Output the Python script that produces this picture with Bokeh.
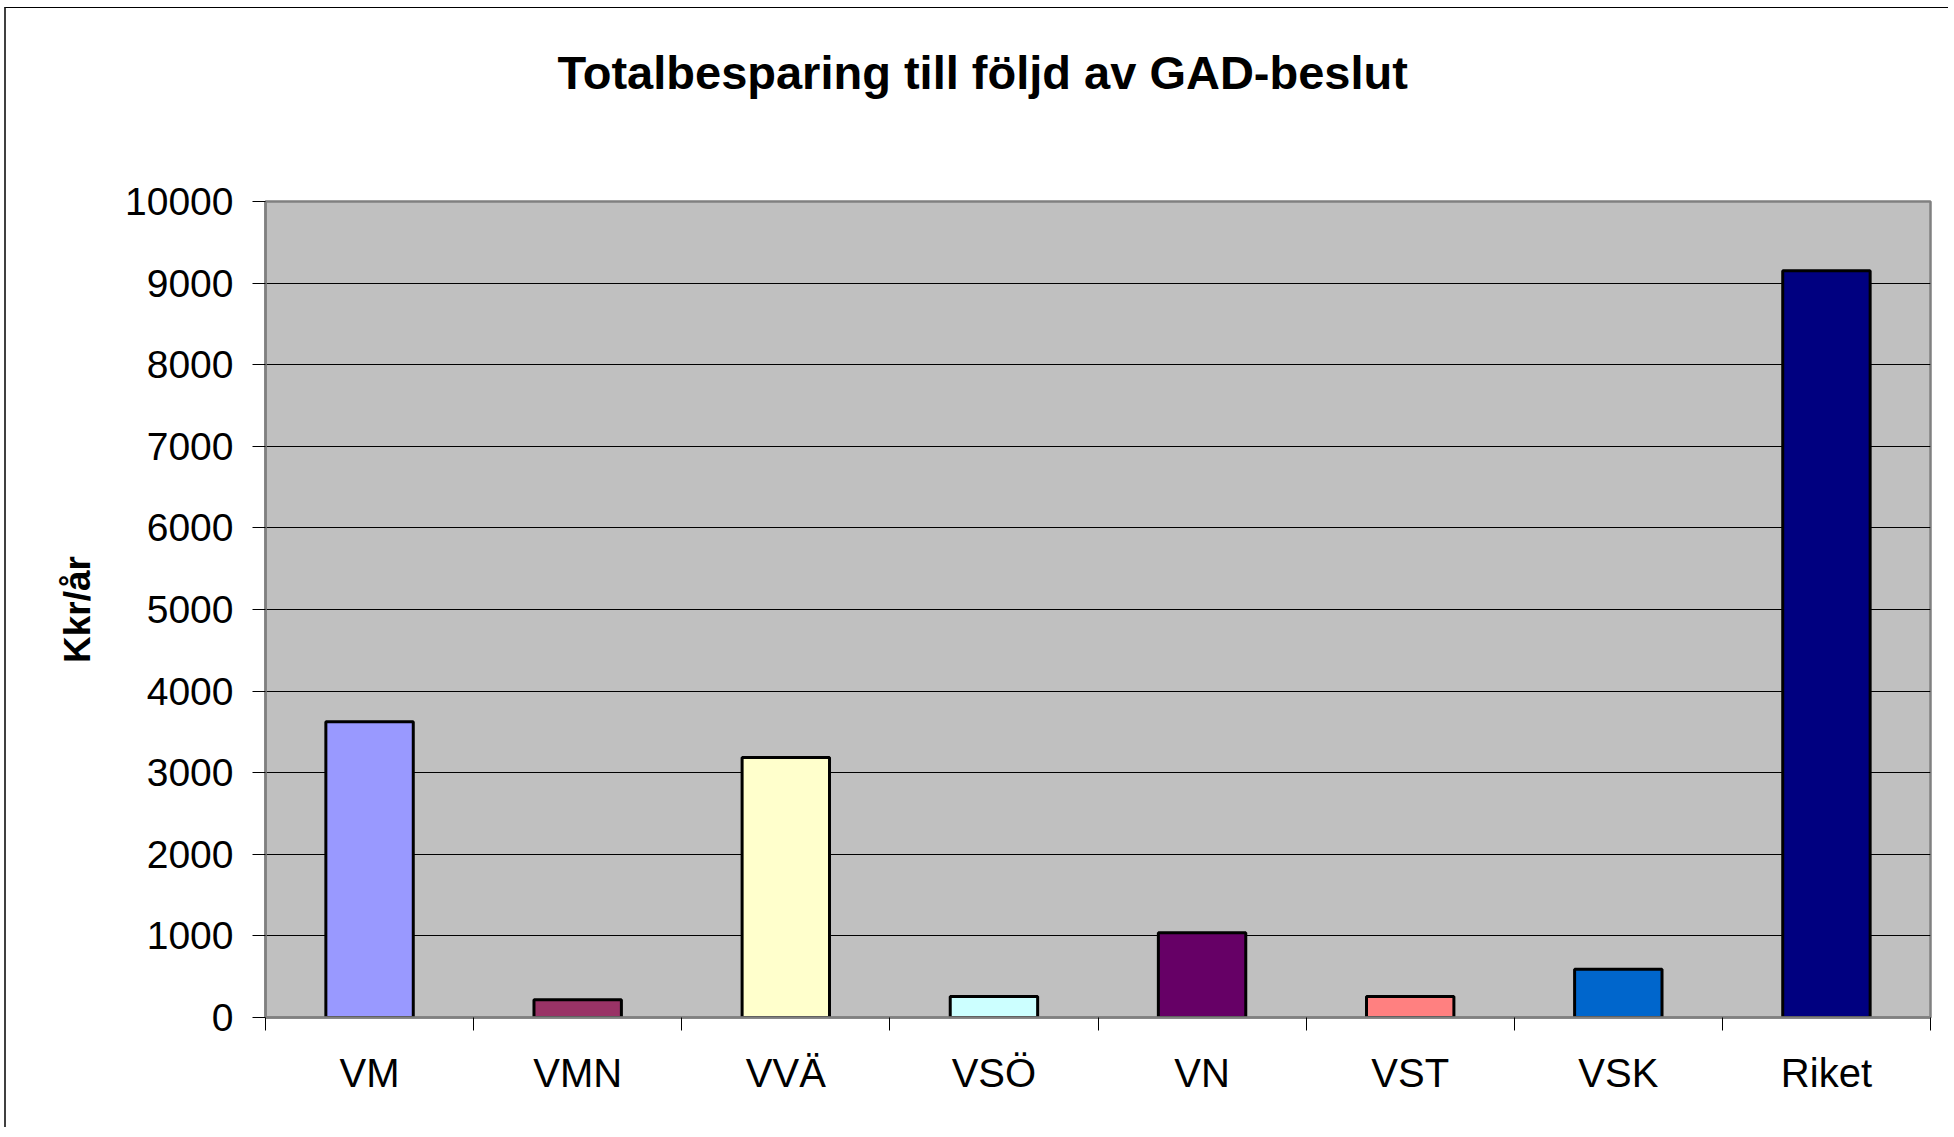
from bokeh.plotting import figure
from bokeh.models import ColumnDataSource, FixedTicker, Range1d, Title
from bokeh.embed import file_html
from bokeh.resources import INLINE

categories = ["VM", "VMN", "VVÄ", "VSÖ", "VN", "VST", "VSK", "Riket"]
values = [3625, 217, 3185, 257, 1038, 257, 592, 9150]
colors = ["#9999FF", "#993366", "#FFFFCC", "#CCFFFF", "#660066", "#FF8080", "#0066CC", "#000080"]
y_ticks = [0, 1000, 2000, 3000, 4000, 5000, 6000, 7000, 8000, 9000, 10000]
title_text = "Totalbesparing till följd av GAD-beslut"
y_label = "Kkr/år"

FONT = "Liberation Sans"

positions = [i + 0.5 for i in range(len(categories))]
boundaries = list(range(len(categories) + 1))

src = ColumnDataSource(dict(x=positions, top=values, color=colors, cat=categories))

p = figure(width=1944, height=1120, output_backend="svg", toolbar_location=None,
           x_range=Range1d(0, len(categories)), y_range=Range1d(0, 10000),
           min_border_left=259, min_border_right=20, min_border_top=193, min_border_bottom=111,
           background_fill_color="#C0C0C0", border_fill_color="white",
           title=title_text)
p.styles = {"margin-left": "4px", "margin-top": "7px",
            "border-top": "1px solid #000000", "border-left": "2px solid #404040"}

# spacer between the title and the plot area
p.add_layout(Title(text=" ", text_font_size="1px", standoff=95), "above")

p.title.align = "left"
p.title.offset = 292
p.title.standoff = 10
p.title.text_font = FONT
p.title.text_font_size = "47px"
p.title.text_font_style = "bold"
p.title.text_color = "#000000"

p.outline_line_color = "#808080"
p.outline_line_width = 2.5

p.vbar(x="x", top="top", bottom=0, width=0.42, fill_color="color", line_color="black",
       line_width=3, source=src)

# x axis
xa = p.xaxis[0]
xa.ticker = FixedTicker(ticks=positions, minor_ticks=boundaries)
xa.major_label_overrides = {pos: cat for pos, cat in zip(positions, categories)}
xa.major_tick_line_color = None
xa.major_tick_out = 13
xa.major_tick_in = 0
xa.minor_tick_out = 13
xa.minor_tick_in = 0
xa.minor_tick_line_color = "#000000"
xa.minor_tick_line_width = 1
xa.axis_line_color = "#808080"
xa.axis_line_width = 2.5
xa.major_label_standoff = 20
xa.major_label_text_font = FONT
xa.major_label_text_font_size = "40px"
xa.major_label_text_color = "#000000"

# y axis
ya = p.yaxis[0]
ya.ticker = FixedTicker(ticks=y_ticks, minor_ticks=[])
ya.major_tick_out = 13
ya.major_tick_in = 0
ya.major_tick_line_color = "#000000"
ya.major_tick_line_width = 1
ya.axis_line_color = "#808080"
ya.axis_line_width = 2.5
ya.major_label_standoff = 19
ya.major_label_text_font = FONT
ya.major_label_text_font_size = "39px"
ya.major_label_text_color = "#000000"
ya.axis_label = y_label
ya.axis_label_text_font = FONT
ya.axis_label_text_font_size = "37px"
ya.axis_label_text_font_style = "bold"
ya.axis_label_text_color = "#000000"
ya.axis_label_standoff = 24

p.xgrid.visible = False
p.ygrid.grid_line_color = "#000000"
p.ygrid.grid_line_width = 1

open("out.html", "w").write(file_html(p, INLINE))
